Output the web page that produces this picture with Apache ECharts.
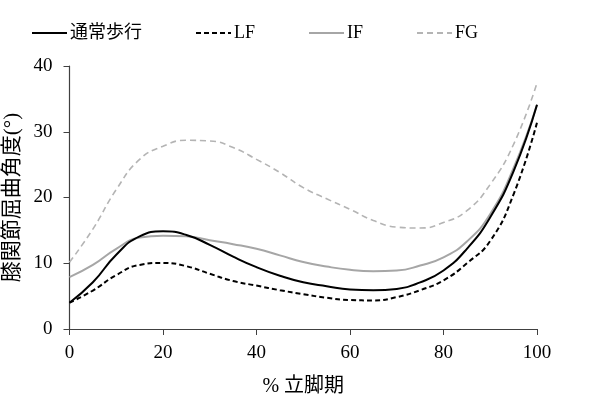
<!DOCTYPE html>
<html>
<head>
<meta charset="utf-8">
<script src="https://cdn.jsdelivr.net/npm/echarts@6/dist/echarts.min.js"></script>
<style>html,body{margin:0;padding:0;background:#fff}#c{width:590px;height:415px}</style>
</head>
<body>
<div id="c"></div>
<script>
const stance = [0,5,10,15,20,25,30,35,40,45,50,55,60,65,70,75,80,85,90,95,100];
const normalWalk = [4.0,7.1,11.3,14.1,14.85,14.3,12.8,11.0,9.4,8.1,7.1,6.5,6.0,5.9,6.1,7.1,8.9,12.2,17.0,24.0,34.1];
const lf = [4.0,5.85,8.2,9.75,10.05,9.55,8.4,7.3,6.6,5.9,5.3,4.75,4.4,4.35,4.85,5.9,7.4,10.0,13.4,20.5,31.4];
const ifv = [7.9,9.75,12.2,13.9,14.2,14.1,13.5,12.9,12.2,11.2,10.2,9.5,9.0,8.8,8.9,9.65,10.9,13.3,17.5,24.5,34.1];
const fg = [10.15,15.2,21.2,25.8,27.8,28.7,28.6,27.6,25.8,23.8,21.5,19.8,18.2,16.5,15.5,15.35,16.2,18.0,22.0,28.1,37.4];
const seriesNames = ['通常歩行','LF','IF','FG'];
const xTicks = [0,20,40,60,80,100];
const yTicks = [0,10,20,30,40];

const FONT = '"Liberation Serif", "Times New Roman", "Noto Sans CJK JP", serif';
const pair = arr => stance.map((x,i)=>[x,arr[i]]);

const chart = echarts.init(document.getElementById('c'), null, {renderer:'canvas'});
chart.setOption({
  animation:false,
  backgroundColor:'#fff',
  textStyle:{fontFamily:FONT},
  legend:{
    top:19, left:26,
    itemWidth:35, itemHeight:10, itemGap:53,
    itemStyle:{color:'transparent',borderWidth:0,opacity:0},
    textStyle:{fontFamily:FONT,fontSize:18,color:'#000',padding:[0,0,0,-2]},
    data:seriesNames
  },
  grid:{left:69.5,right:53,top:66,bottom:86,outerBoundsMode:'none',containLabel:false},
  xAxis:{
    type:'value', min:xTicks[0], max:xTicks[xTicks.length-1], interval:20,
    name:'% 立脚期', nameLocation:'middle', nameGap:48,
    nameTextStyle:{fontFamily:FONT,fontSize:20,color:'#000'},
    axisLine:{lineStyle:{color:'#404040',width:1.2}},
    axisTick:{show:true,length:6,lineStyle:{color:'#404040'}},
    axisLabel:{fontFamily:FONT,fontSize:19,color:'#000',margin:15},
    splitLine:{show:false}
  },
  yAxis:{
    type:'value', min:yTicks[0], max:yTicks[yTicks.length-1], interval:10,
    name:'膝関節屈曲角度(°)', nameLocation:'middle', nameGap:41,
    nameTextStyle:{fontFamily:FONT,fontSize:21,color:'#000'},
    axisLine:{show:true,lineStyle:{color:'#404040',width:1.2}},
    axisTick:{show:true,length:6,lineStyle:{color:'#404040'}},
    axisLabel:{fontFamily:FONT,fontSize:19,color:'#000',margin:17},
    splitLine:{show:false}
  },
  series:[
    {name:seriesNames[0],type:'line',smooth:true,symbol:'none',data:pair(normalWalk),
     lineStyle:{color:'#000',width:2},itemStyle:{color:'#000'},z:4},
    {name:seriesNames[1],type:'line',smooth:true,symbol:'none',data:pair(lf),
     lineStyle:{color:'#000',width:2,type:[5,3]},itemStyle:{color:'#000'},z:3},
    {name:seriesNames[2],type:'line',smooth:true,symbol:'none',data:pair(ifv),
     lineStyle:{color:'#a6a6a6',width:2},itemStyle:{color:'#a6a6a6'},z:2},
    {name:seriesNames[3],type:'line',smooth:true,symbol:'none',data:pair(fg),
     lineStyle:{color:'#b4b4b4',width:1.6,type:[6,4]},itemStyle:{color:'#b4b4b4'},z:1}
  ]
});
</script>
</body>
</html>
